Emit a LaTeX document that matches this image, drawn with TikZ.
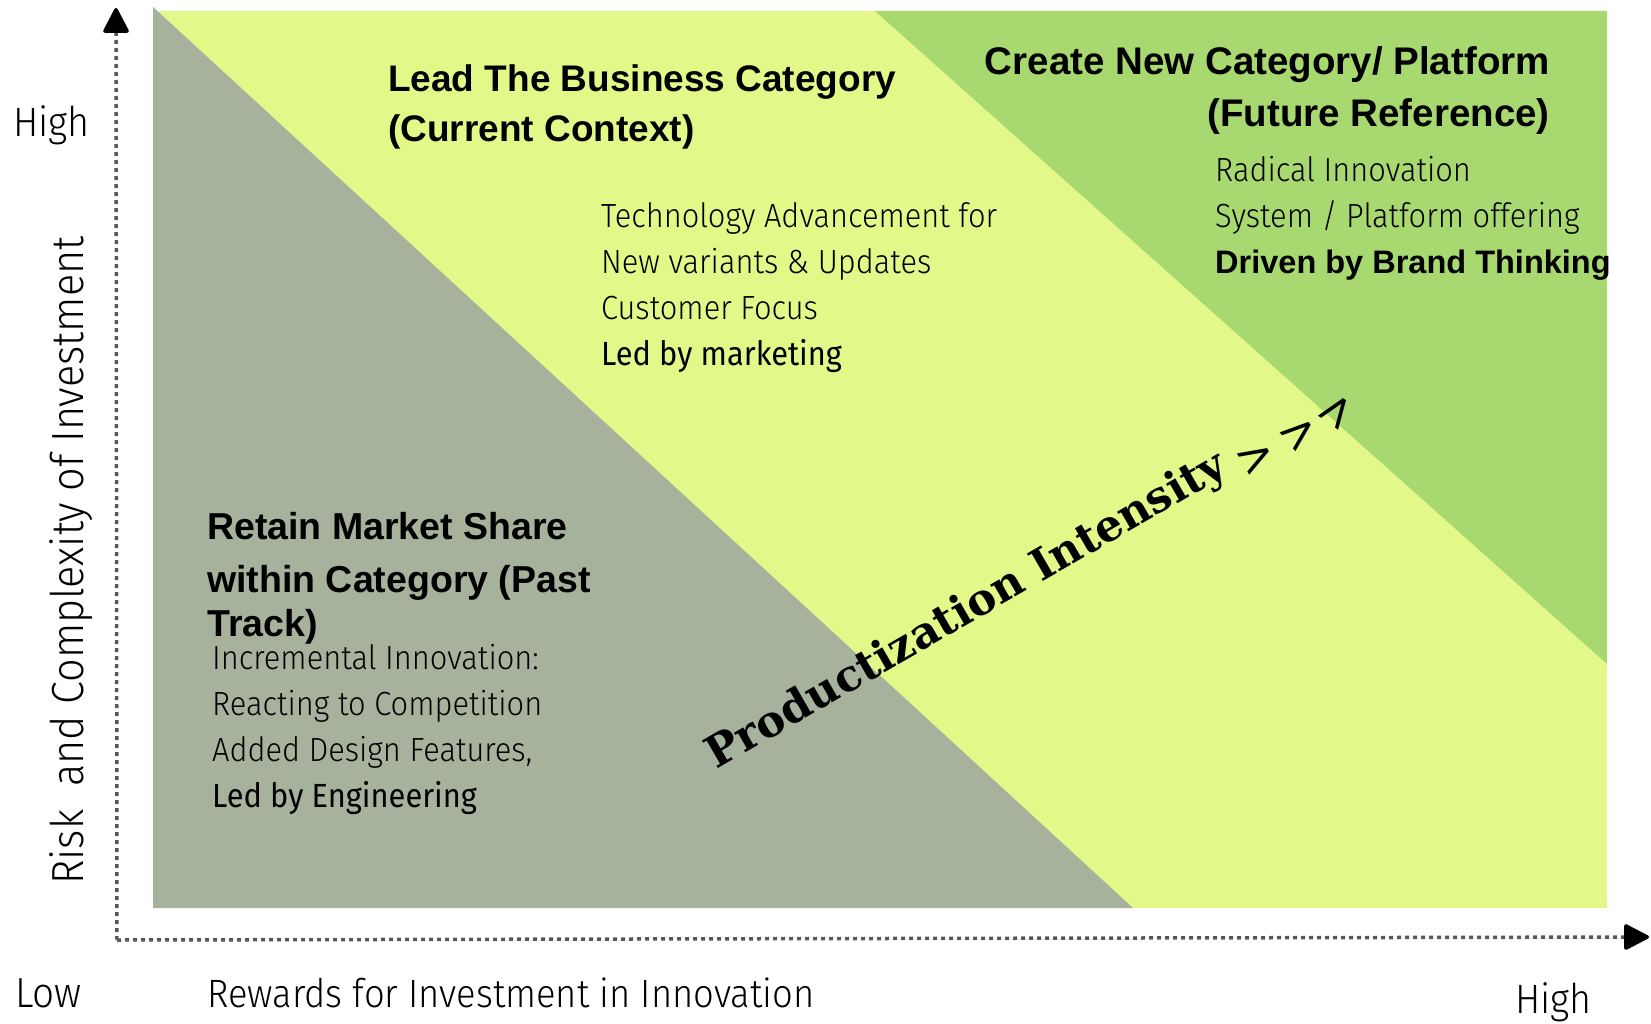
\documentclass[tikz,border=0pt]{standalone}
\usepackage{fontspec}
\setmainfont{Liberation Sans}
\newfontfamily\lightfont{Fira Sans Light}[FakeStretch=0.92]
\newfontfamily\plainfont{Fira Sans}[FakeStretch=0.92]
\newfontfamily\slabfont{DejaVu Serif}
\usetikzlibrary{calc}
\usetikzlibrary{arrows.meta}

\definecolor{pastgray}{RGB}{166,178,156}
\definecolor{nowyellow}{RGB}{226,249,138}
\definecolor{futuregreen}{RGB}{168,216,112}

\begin{document}
\begin{tikzpicture}[x=1pt, y=-1pt,
		axis/.style={black!65, line width=3.5pt, dash pattern=on 4pt off 4pt, -{Triangle[length=27pt, width=27pt, round, black]}},
		heading/.style={anchor=base west, inner sep=0pt, align=left, font=\bfseries\fontsize{37}{50}\selectfont},
		light/.style={anchor=base west, inner sep=0pt, align=left, font=\lightfont\fontsize{33.5}{46}\selectfont},
		axislabel/.style={anchor=base west, inner sep=0pt, font=\lightfont\fontsize{39.5}{40}\selectfont}]
		\useasboundingbox (0,0) rectangle (1651,1024);

		% the three fields
		\fill[nowyellow] (153,11) rectangle (1607,908);
		\fill[futuregreen] (875,11) -- (1607,11) -- (1607,664) -- cycle;
		\fill[pastgray] (153,7) -- (1133,908) -- (153,908) -- cycle;

		% axes
		\path (117,940) coordinate (origin);
		\path (116,8) coordinate (ytip);
		\path (1649,937) coordinate (xtip);
		\draw[axis] (origin) -- (ytip);
		\draw[axis] (origin) -- (xtip);

		\node[axislabel, font=\lightfont\fontsize{41}{41}\selectfont] (highy) at (13,137) {High};
		\node[axislabel, font=\lightfont\fontsize{42}{42}\selectfont] (low) at (15,1007) {Low};
		\node[axislabel] (rewards) at (207,1007) {Rewards for Investment in Innovation};
		\node[axislabel, font=\lightfont\fontsize{41}{41}\selectfont] (highx) at (1515,1013) {High};
		\node[axislabel, rotate=90, font=\lightfont\fontsize{45}{45}\selectfont] (risk) at (83,885) {Risk\ \ and Complexity of Investment};

		% field texts (anchored at the last line)
		\node[heading] (lead) at (388,142) {Lead The Business Category\\(Current Context)};
		\node[light] (tech) at (601,365) {Technology Advancement for\\New variants \& Updates\\Customer Focus\\{\plainfont Led by marketing}};

		\node[heading, anchor=base east, align=right, font=\bfseries\fontsize{38.5}{52}\selectfont] (create) at (1550,127) {Create New Category/ Platform\\(Future Reference)};
		\node[light] (radical) at (1215,273) {Radical Innovation\\System / Platform offering\\{\normalfont\bfseries\fontsize{32.5}{46}\selectfont Driven by Brand Thinking}};

		\node[heading, font=\bfseries\fontsize{37.5}{53}\selectfont] (retain) at (207,636) {Retain Market Share\\within Category (Past\\[-9pt]Track)};
		\node[light] (incr) at (212,807) {Incremental Innovation:\\Reacting to Competition\\Added Design Features,\\{\plainfont Led by Engineering}};

		% intensity
		\node[anchor=base west, rotate=30, inner sep=0pt, font=\slabfont\bfseries\fontsize{43.5}{43.5}\selectfont] (prod) at (716,770) {Productization Intensity};
		\foreach \x/\y/\a [count=\i] in {1256/458/30, 1300/434/40, 1338/412/55}
			\node[rotate=\a, inner sep=0pt, font=\slabfont\fontsize{46}{46}\selectfont] (gt\i) at (\x,\y) {>};
	\end{tikzpicture}
\end{document}
